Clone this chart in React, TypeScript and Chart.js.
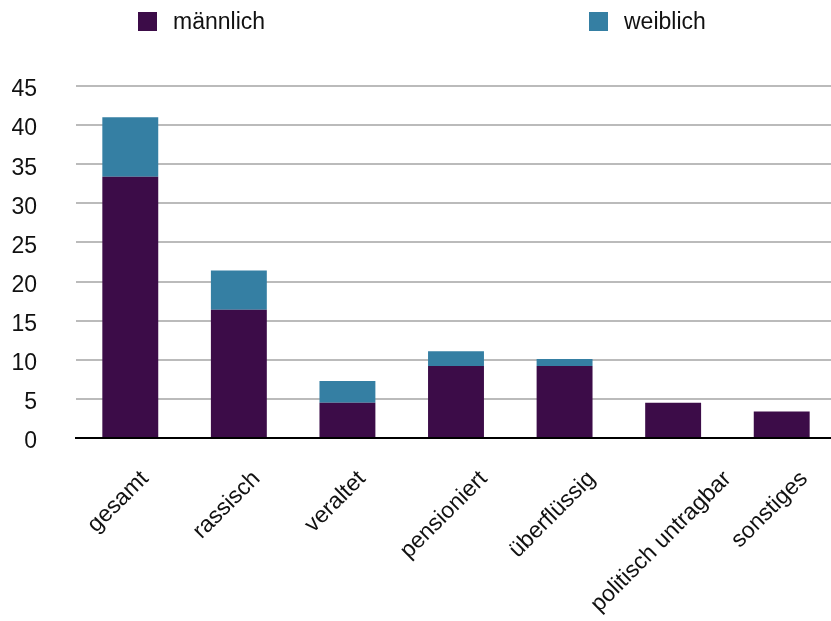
import React, { useEffect, useRef } from 'react';
import { Chart, registerables } from 'chart.js';

Chart.register(...registerables);

const categories = ['gesamt', 'rassisch', 'veraltet', 'pensioniert', 'überflüssig', 'politisch untragbar', 'sonstiges'];
const seriesLabels = ['männlich', 'weiblich'];
const maleValues = [33.4, 16.4, 4.5, 9.2, 9.2, 4.5, 3.4];
const femaleValues = [7.6, 5.0, 2.8, 1.9, 0.9, 0, 0];
const yMax = 45;
const yStep = 5;

const maleColor = '#3c0c48';
const femaleColor = '#357fa3';
const FONT = '"Liberation Sans", Arial, Helvetica, sans-serif';
const FONT_SIZE = 23;

const legendPlugin = {
  id: 'customLegend',
  afterDraw(chart: any) {
    const ctx = chart.ctx;
    const xs = [138, 589];
    chart.data.datasets.forEach((ds: any, i: number) => {
      const x = xs[i];
      ctx.save();
      ctx.fillStyle = ds.backgroundColor;
      ctx.fillRect(x, 12, 19, 19);
      ctx.fillStyle = '#111';
      ctx.font = `${FONT_SIZE}px ${FONT}`;
      ctx.textBaseline = 'alphabetic';
      ctx.textAlign = 'left';
      ctx.fillText(ds.label, x + 35, 29);
      ctx.restore();
    });
  },
};

// Rotated category labels, positioned from the x scale's tick pixels
const xLabelPlugin = {
  id: 'xLabels',
  afterDraw(chart: any) {
    const scale = chart.scales.x;
    const ctx = chart.ctx;
    const labels = chart.data.labels as string[];
    ctx.save();
    ctx.font = `${FONT_SIZE}px ${FONT}`;
    ctx.fillStyle = '#111';
    ctx.textAlign = 'center';
    ctx.textBaseline = 'middle';
    const s = Math.SQRT1_2;
    const h = FONT_SIZE * 0.9;
    labels.forEach((label, i) => {
      const w = ctx.measureText(label).width;
      const halfBox = ((w + h) * s) / 2;
      const cx = scale.getPixelForTick(i) - 12;
      const cy = scale.top + 30 + halfBox;
      ctx.save();
      ctx.translate(cx, cy);
      ctx.rotate(-Math.PI / 4);
      ctx.fillText(label, 0, 0);
      ctx.restore();
    });
    ctx.restore();
  },
};

export default function App() {
  const ref = useRef<HTMLCanvasElement>(null);
  useEffect(() => {
    if (!ref.current) return;
    const chart = new Chart(ref.current, {
      type: 'bar',
      data: {
        labels: categories,
        datasets: [
          { label: seriesLabels[0], data: maleValues, backgroundColor: maleColor, borderWidth: 0 },
          { label: seriesLabels[1], data: femaleValues, backgroundColor: femaleColor, borderWidth: 0 },
        ],
      },
      options: {
        responsive: false,
        animation: false,
        layout: { padding: { top: 86, left: 0, right: 0, bottom: 0 } },
        plugins: { legend: { display: false }, tooltip: { enabled: false } },
        datasets: { bar: { categoryPercentage: 1, barPercentage: 0.515 } },
        scales: {
          x: {
            stacked: true,
            grid: { display: false, drawTicks: false },
            border: { display: true, color: '#000', width: 2 },
            ticks: { display: false, autoSkip: false },
            afterFit(scale: any) {
              scale.height = 183;
            },
          },
          y: {
            stacked: true,
            min: 0,
            max: yMax,
            grid: { color: '#bbbbbb', lineWidth: 2, drawTicks: false },
            border: { display: false },
            ticks: {
              stepSize: yStep,
              color: '#111',
              font: { family: FONT, size: FONT_SIZE },
              padding: 39,
              labelOffset: 4,
            },
            afterFit(scale: any) {
              scale.width = 76;
            },
          },
        },
      },
      plugins: [legendPlugin, xLabelPlugin],
    });
    return () => chart.destroy();
  }, []);
  return (
    <div style={{ position: 'absolute', left: 0, top: 0, width: 831, height: 621, overflow: 'hidden', background: '#fff' }}>
      <canvas ref={ref} width={836} height={621} />
    </div>
  );
}
